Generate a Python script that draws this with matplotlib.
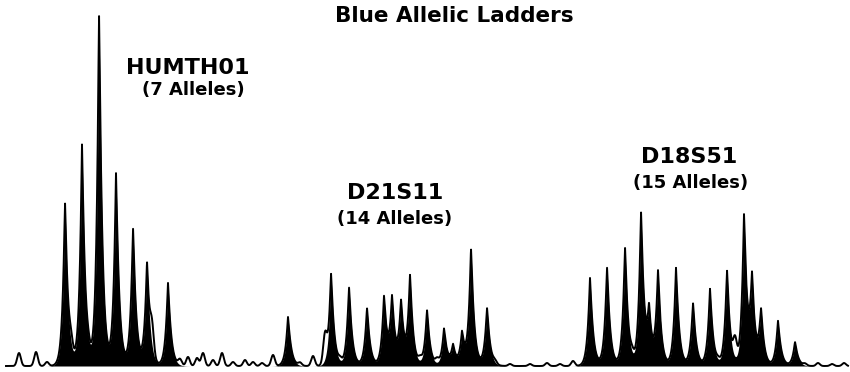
import matplotlib
matplotlib.use("Agg")
import matplotlib.pyplot as plt
import numpy as np

# allele peaks: scan position and peak height (baseline = 0)
humth01_pos = [65, 82, 99, 116, 133, 147, 168]
humth01_hgt = [164, 221, 353, 192, 138, 103, 83]

d21s11_pos = [288, 331, 349, 367, 384, 392, 401, 410, 427, 444, 453, 462, 471, 487]
d21s11_hgt = [49, 93, 79, 58, 68, 65, 62, 88, 56, 37, 20, 32, 116, 58]

d18s51_pos = [590, 607, 625, 641, 649, 658, 676, 693, 710, 727, 744, 752, 761, 778, 795]
d18s51_hgt = [88, 99, 119, 153, 51, 93, 98, 63, 77, 96, 149, 83, 54, 45, 24]

# small unfilled bumps along the baseline
noise_pos = [19, 36, 47, 71, 88, 152, 180, 188, 197, 203, 213, 222, 233, 245, 253,
             262, 273, 300, 313, 325, 340, 420, 437, 495, 510, 530, 547, 560, 573,
             632, 718, 735, 805, 818, 832, 844]
noise_hgt = [13, 14, 4, 12, 6, 26, 6, 9, 8, 13, 6, 13, 4, 6, 4,
             3, 11, 3, 10, 27, 4, 5, 5, 3, 2, 2, 3, 2, 5,
             6, 3, 21, 2, 3, 2, 3]

labels = ["HUMTH01", "D21S11", "D18S51"]
sublabels = ["(7 Alleles)", "(14 Alleles)", "(15 Alleles)"]
title = "Blue Allelic Ladders"


def spike(x, pos, h, wl=2.6, wr=3.3):
    # sharp tip, tail a little longer on the right
    dx = x - pos
    w = np.where(dx < 0, wl, wr)
    return h * np.exp(-(np.abs(dx) / w) ** 1.1)


x = np.linspace(6, 848, 8000)
alleles = np.zeros_like(x)
for p, h in zip(humth01_pos + d21s11_pos + d18s51_pos,
                humth01_hgt + d21s11_hgt + d18s51_hgt):
    alleles += spike(x, p, h)

noise = np.zeros_like(x)
for p, h in zip(noise_pos, noise_hgt):
    noise += h * np.exp(-((x - p) / 2.6) ** 2)

signal = alleles + noise

fig = plt.figure(figsize=(8.5, 3.72), dpi=100)
ax = fig.add_axes([0, 0, 1, 1])
ax.set_xlim(0, 850)
ax.set_ylim(-6, 366)
ax.axis("off")

ax.fill_between(x, 0, alleles, color="black", lw=0)
ax.plot(x, signal, color="black", lw=1.4)

fig.text(454 / 850, 1 - 16 / 372, title, ha="center", va="center",
         fontsize=15.5, fontweight="bold", family="DejaVu Sans")

label_xy = [(188, 68), (395, 193), (689, 157)]
sub_xy = [(193, 90), (395, 219), (691, 183)]
for (lx, ly), (sx, sy), lab, sub in zip(label_xy, sub_xy, labels, sublabels):
    fig.text(lx / 850, 1 - ly / 372, lab, ha="center", va="center",
             fontsize=16, fontweight="bold", family="DejaVu Sans")
    fig.text(sx / 850, 1 - sy / 372, sub, ha="center", va="center",
             fontsize=13, fontweight="bold", family="DejaVu Sans")

fig.savefig("out.png", dpi=100, facecolor="white")
